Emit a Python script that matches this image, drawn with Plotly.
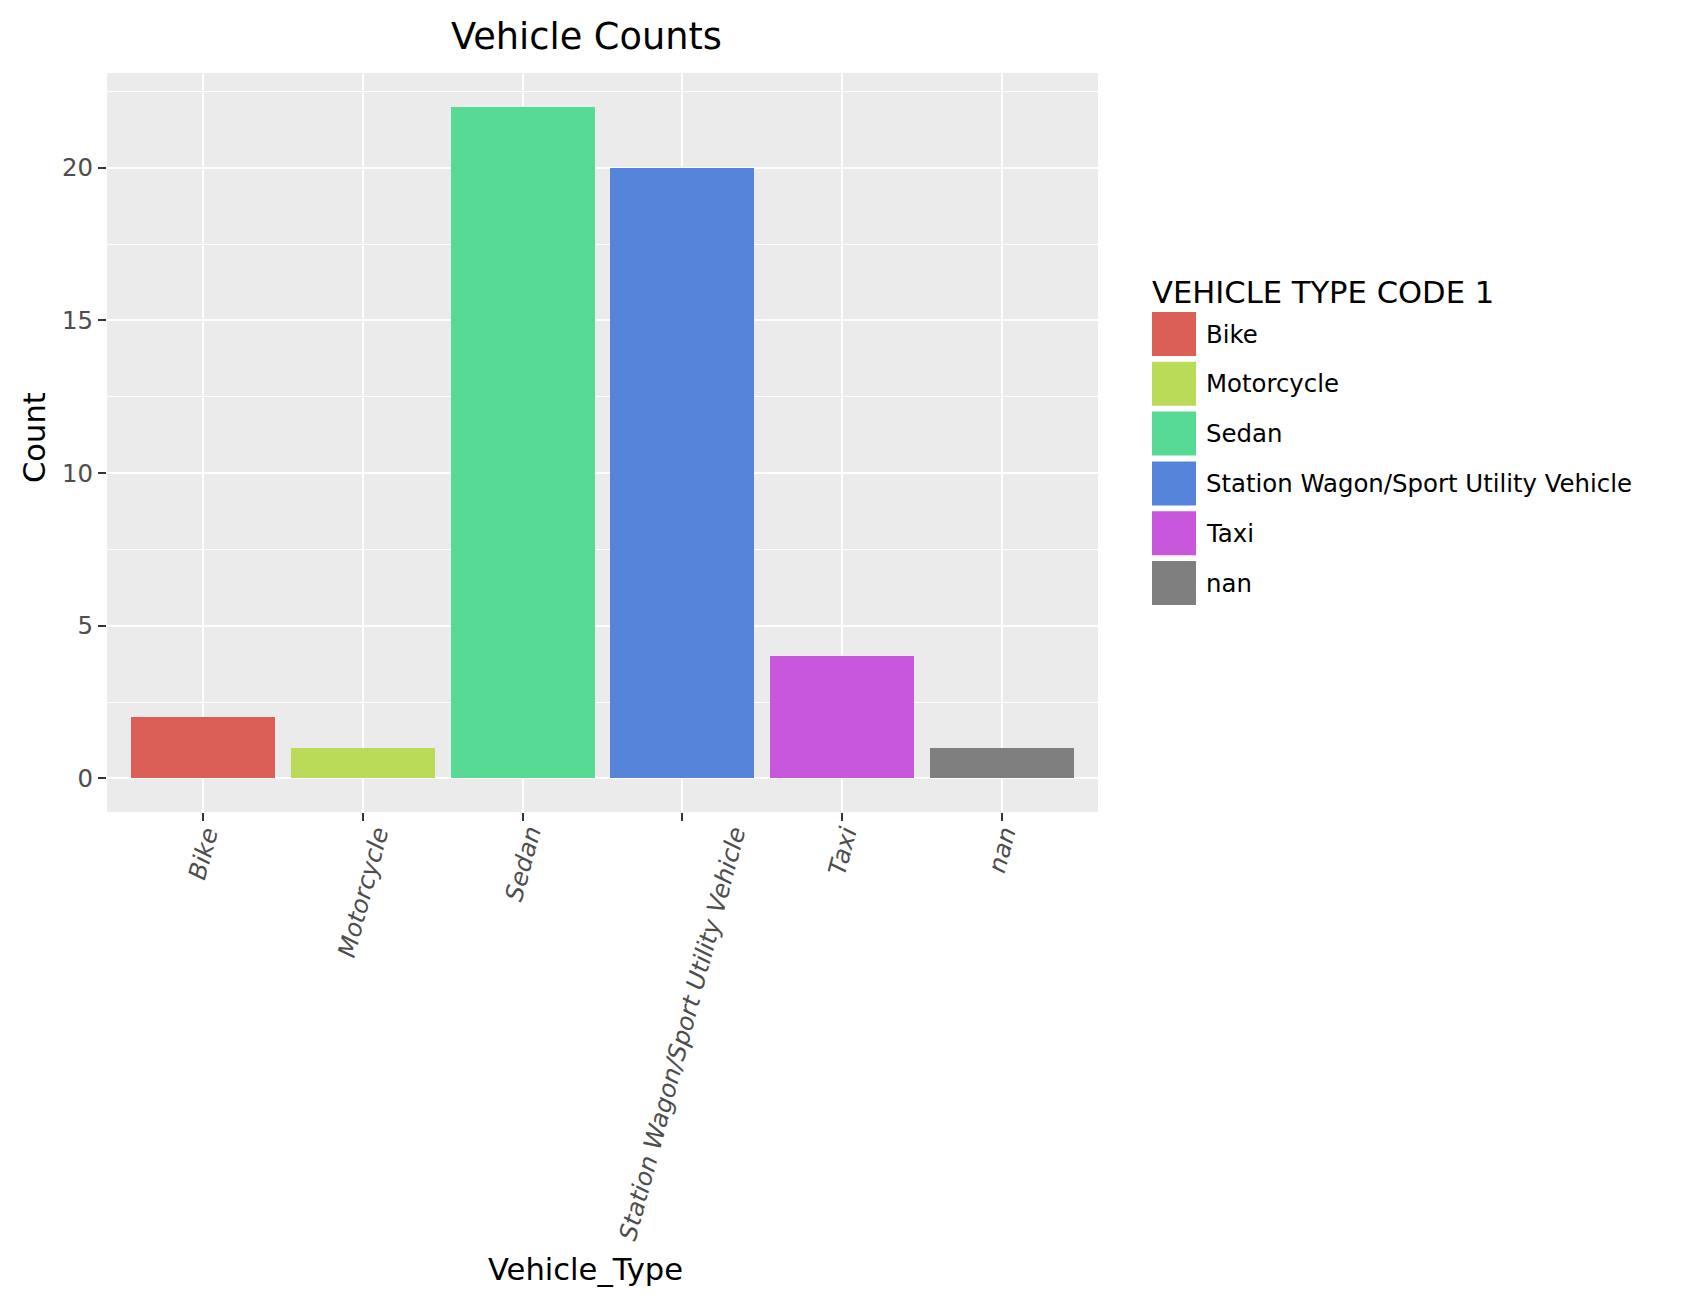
import plotly.graph_objects as go

# ---- data ----
categories = ["Bike", "Motorcycle", "Sedan", "Station Wagon/Sport Utility Vehicle", "Taxi", "nan"]
counts = [2, 1, 22, 20, 4, 1]
colors = ["#db5f57", "#b9db57", "#57db94", "#5784db", "#c957db", "#7f7f7f"]
y_ticks = [0, 5, 10, 15, 20]

title_text = "Vehicle Counts"
x_title = "Vehicle_Type"
y_title = "Count"
legend_title = "VEHICLE TYPE CODE 1"

# ---- geometry (page pixels; the page has an 8px body margin) ----
OFF = 8
W, H = 1685 - OFF, 1307 - OFF
L, R, T, B = 107, 1098, 73, 812          # plot area in page pixels
PW, PH = R - L, B - T
FONT = "DejaVu Sans"


def px2x(px):
    return (px - L) / PW


def px2y(py):
    return (B - py) / PH


fig = go.Figure()
fig.add_trace(go.Bar(
    x=categories, y=counts, width=0.9,
    marker=dict(color=colors, line=dict(width=0)),
    showlegend=False,
))

annotations = [
    dict(text=title_text, x=px2x(586), y=px2y(36.5), xref="paper", yref="paper",
         xanchor="center", yanchor="middle", showarrow=False,
         font=dict(family=FONT, size=36.7, color="black")),
    dict(text=x_title, x=px2x(585), y=px2y(1269), xref="paper", yref="paper",
         xanchor="center", yanchor="middle", showarrow=False,
         font=dict(family=FONT, size=30.6, color="black")),
    dict(text=y_title, x=px2x(34), y=px2y(438), xref="paper", yref="paper",
         xanchor="center", yanchor="middle", textangle=-90, showarrow=False,
         font=dict(family=FONT, size=30.6, color="black")),
    dict(text=legend_title, x=px2x(1150), y=px2y(292.5), xref="paper", yref="paper",
         xanchor="left", yanchor="middle", showarrow=False,
         font=dict(family=FONT, size=30.6, color="black")),
]

# rotated category labels, bounding box centred under each tick
for cat in categories:
    annotations.append(dict(text=cat, x=cat, xref="x", y=px2y(822.5), yref="paper",
                            xanchor="center", yanchor="top", textangle=-75, showarrow=False,
                            borderpad=0,
                            font=dict(family=FONT, size=24.4, color="#4d4d4d", style="italic")))

shapes = []
key_top0, key_size, key_step = 312, 44, 49.8
for i, (cat, col) in enumerate(zip(categories, colors)):
    top = key_top0 + i * key_step
    shapes.append(dict(type="rect", xref="paper", yref="paper",
                       x0=px2x(1152), x1=px2x(1196), y0=px2y(top + key_size), y1=px2y(top),
                       fillcolor=col, line=dict(width=0), layer="above"))
    annotations.append(dict(text=cat, x=px2x(1204), y=px2y(top + key_size / 2),
                            xref="paper", yref="paper", xanchor="left", yanchor="middle",
                            showarrow=False, font=dict(family=FONT, size=24.4, color="black")))

fig.update_layout(
    width=W, height=H,
    margin=dict(l=L - OFF, r=W - (R - OFF), t=T - OFF, b=H - (B - OFF), autoexpand=False),
    paper_bgcolor="white", plot_bgcolor="#ebebeb",
    font=dict(family=FONT, color="#4d4d4d"),
    showlegend=False,
    annotations=annotations,
    shapes=shapes,
    bargap=0,
)
fig.update_xaxes(
    type="category", categoryorder="array", categoryarray=categories,
    range=[-0.6, len(categories) - 0.4],
    showgrid=True, gridcolor="white", gridwidth=2,
    ticks="outside", ticklen=8, tickwidth=2, tickcolor="#333333",
    showticklabels=False,
    showline=False, zeroline=False,
)
fig.update_yaxes(
    range=[-1.1, 23.1], tickvals=y_ticks, ticktext=[str(v) for v in y_ticks],
    showgrid=True, gridcolor="white", gridwidth=2,
    minor=dict(tickvals=[2.5, 7.5, 12.5, 17.5, 22.5], showgrid=True, gridcolor="white", gridwidth=1, ticks=""),
    ticks="outside", ticklen=8, tickwidth=2, tickcolor="#333333",
    tickfont=dict(family=FONT, size=24.4, color="#4d4d4d"),
    showline=False, zeroline=False,
)

fig.write_html("out.html")
